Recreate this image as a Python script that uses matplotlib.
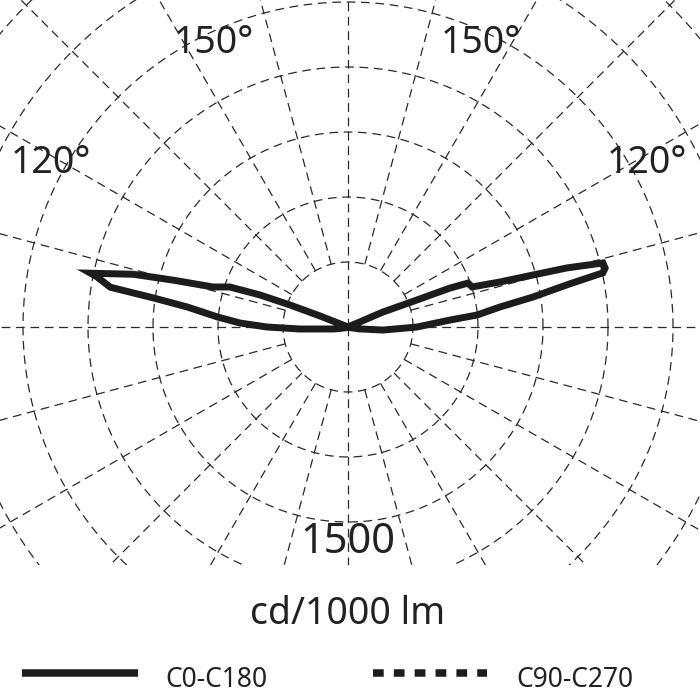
import numpy as np
import matplotlib
matplotlib.use("Agg")
import matplotlib.pyplot as plt
from matplotlib.lines import Line2D

plt.rcParams['font.family'] = ['Noto Sans', 'DejaVu Sans']

# ---- data (cd/1000 lm) ----
gamma_c0 = [0, 60, 75, 80, 85, 90, 93.9, 95.3, 97.5, 99.2, 100.9, 102.0, 102.9, 104.1,
            105.1, 105.7, 106.5, 107.9, 110.1, 110.9, 111.4, 113.2, 115, 180]
int_c0 = [0, 0, 20, 80, 270, 531, 786, 997, 1179, 1441, 1715, 2004, 2029, 2022,
          1745, 1478, 1219, 1003, 983, 840, 570, 292, 0, 0]
gamma_c180 = [0, 60, 75, 80, 82.4, 87.6, 90, 92.1, 94.4, 97.1, 98.5, 99.5, 101.3, 101.8,
              103.8, 105.0, 106.5, 108.7, 110.0, 110.8, 111.5, 113, 180]
int_c180 = [0, 0, 20, 70, 115, 369, 623, 830, 1008, 1246, 1515, 1854, 1969, 2023,
            1700, 1393, 1084, 960, 722, 477, 230, 0, 0]
ring_values = [500, 1000, 1500, 2000, 2500, 3000, 3500]
ring_label = "1500"
angle_labels = ["150°", "150°", "120°", "120°"]
unit_label = "cd/1000 lm"
legend_labels = ["C0-C180", "C90-C270"]

# ---- layout ----
W = H = 700
cx, cy = 348, 327          # centre in pixels
s = 500 / 65.0             # cd per pixel
plot_bottom = 565

fig = plt.figure(figsize=(7, 7), dpi=100)
ax = fig.add_axes([0, 1 - plot_bottom / H, 1, plot_bottom / H])
ax.set_xlim(-cx * s, (W - cx) * s)
ax.set_ylim((cy - plot_bottom) * s, cy * s)
ax.set_aspect('equal')
ax.axis('off')

gc = '#2a2a2a'
gls = (0, (7, 4.5))
glw = 0.9
t = np.linspace(0, 2 * np.pi, 721)
for r in ring_values:
    ax.plot(r * np.cos(t), r * np.sin(t), color=gc, lw=glw, ls=gls)
for a in range(0, 360, 15):
    ar = np.radians(a)
    r0 = 0 if a in (90, 270) else ring_values[0]
    ax.plot([r0 * np.cos(ar), 5000 * np.cos(ar)], [r0 * np.sin(ar), 5000 * np.sin(ar)],
            color=gc, lw=glw, ls=gls)

# curve C0 (right) and C180 (left), gamma measured from nadir
g0 = np.radians(gamma_c0)
g1 = np.radians(gamma_c180)[::-1]
i1 = np.array(int_c180)[::-1]
x = np.concatenate([np.array(int_c0) * np.sin(g0), -i1 * np.sin(g1)])
y = np.concatenate([-np.array(int_c0) * np.cos(g0), -i1 * np.cos(g1)])
ax.plot(x, y, color='#1c1c1c', lw=5.0, solid_joinstyle='miter', zorder=5)

tc = '#222222'
def px(xp, yp):
    return (xp - cx) * s, (cy - yp) * s

ax.text(*px(348, 553), ring_label, fontsize=30, color=tc, ha='center', va='baseline')
ax.text(*px(214, 53), angle_labels[0], fontsize=27, color=tc, ha='center', va='baseline')
ax.text(*px(481, 53), angle_labels[1], fontsize=27, color=tc, ha='center', va='baseline')
ax.text(*px(51, 173), angle_labels[2], fontsize=27, color=tc, ha='center', va='baseline')
ax.text(*px(647, 173), angle_labels[3], fontsize=27, color=tc, ha='center', va='baseline')

fig.text(348 / W, 1 - 624 / H, unit_label, fontsize=27, color=tc, ha='center', va='baseline')

ly = 1 - 673 / H
fig.add_artist(Line2D([22 / W, 138 / W], [ly, ly], color='#1c1c1c', lw=5.4,
                      solid_capstyle='butt'))
fig.add_artist(Line2D([373 / W, 487 / W], [ly, ly], color='#1c1c1c', lw=5.4,
                      ls=(0, (1.43, 1.35)), dash_capstyle='butt'))
fig.text(165 / W, 1 - 687 / H, legend_labels[0], fontsize=19, color=tc, ha='left', va='baseline')
fig.text(516 / W, 1 - 687 / H, legend_labels[1], fontsize=19, color=tc, ha='left', va='baseline')

fig.savefig('out.png', dpi=100, facecolor='white')
